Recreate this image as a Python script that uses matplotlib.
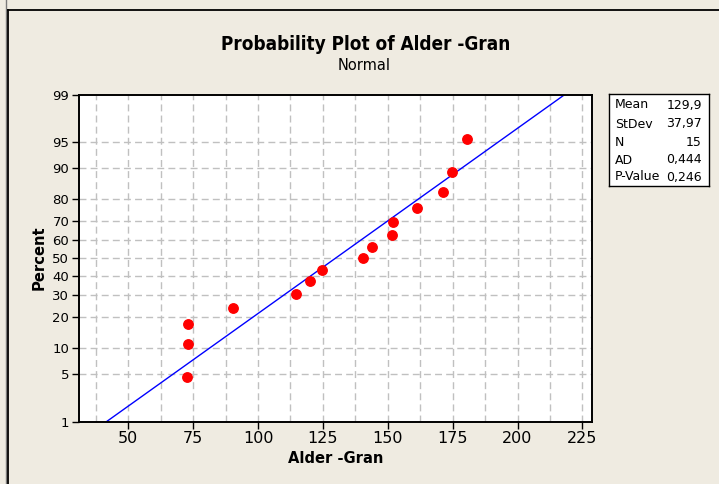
import matplotlib
matplotlib.use("Agg")
import matplotlib.pyplot as plt
from matplotlib.lines import Line2D
from matplotlib import font_manager
from statistics import NormalDist
import numpy as np

# data (Alder - Gran, n = 15)
alder = [72.7, 73.0, 73.0, 90.4, 114.8, 119.9, 124.6, 140.4, 143.8,
         151.6, 152.1, 161.1, 171.2, 174.6, 180.4]
percent = [4.5, 11.0, 17.5, 24.0, 30.5, 37.0, 43.5, 50.0, 56.5,
           63.0, 69.5, 76.0, 82.5, 89.0, 95.5]

# fitted normal from the stats box
mean = 129.9
stdev = 37.97
stats_labels = ["Mean", "StDev", "N", "AD", "P-Value"]
stats_values = ["129,9", "37,97", "15", "0,444", "0,246"]

y_ticks = [1, 5, 10, 20, 30, 40, 50, 60, 70, 80, 90, 95, 99]
x_ticks = [50, 75, 100, 125, 150, 175, 200, 225]

nd = NormalDist()
def z(p):
    return nd.inv_cdf(p / 100.0)

# narrower bold font if the condensed DejaVu face is there (closer to Tahoma)
cond = font_manager.FontProperties(family="DejaVu Sans", stretch="condensed",
                                   weight="bold")
has_cond = "Condensed" in font_manager.findfont(cond, fallback_to_default=True)
stretch = "condensed" if has_cond else "normal"
k = 1.0 if has_cond else 0.88

bg = "#EFEBE1"
W, H = 719, 484
fig = plt.figure(figsize=(W / 100, H / 100), dpi=100, facecolor=bg)

def fx(px):
    return px / W
def fy(py):
    return 1 - py / H

# outer window borders
fig.add_artist(Line2D([fx(5.8), fx(5.8)], [0, 1], color="#7a7a7a", lw=1.0))
fig.add_artist(Line2D([fx(7.6), fx(7.6)], [0, fy(9.5)], color="black", lw=1.3))
fig.add_artist(Line2D([fx(7.6), 1], [fy(9.5), fy(9.5)], color="black", lw=1.3))

ax = fig.add_axes([fx(79), fy(421.7), fx(592) - fx(79), fy(94.5) - fy(421.7)])
ax.set_facecolor("white")

zlim = z(99)
ax.set_ylim(-zlim, zlim)
ax.set_xlim(31, 228.7)

# grid: dashed, every 12.5 on x, at every percent tick on y
for gx in np.arange(37.5, 228, 12.5):
    ax.axvline(gx, color="#c0c0c0", lw=1.0, ls=(0, (5, 3)), zorder=0)
for p in y_ticks[1:-1]:
    ax.axhline(z(p), color="#c0c0c0", lw=1.0, ls=(0, (5, 3)), zorder=0)

# fitted line
line_z = np.array([-zlim, zlim])
ax.plot(mean + stdev * line_z, line_z, color="#0000ff", lw=1.0, zorder=2)

# points
ax.plot(alder, [z(p) for p in percent], "o", color="#ff0000", ms=6.8,
        mec="#ff0000", zorder=3, clip_on=False)

ax.set_yticks([z(p) for p in y_ticks])
ax.set_yticklabels([str(p) for p in y_ticks], fontsize=9.5)
ax.set_xticks(x_ticks)
ax.set_xticklabels([str(v) for v in x_ticks], fontsize=11.5)
ax.tick_params(direction="out", length=5, width=1.0, pad=2)
for s in ax.spines.values():
    s.set_linewidth(1.4)

ax.set_xlabel("Alder -Gran", fontsize=11.8 * k, fontweight="bold",
              fontstretch=stretch, labelpad=3)
ax.set_ylabel("Percent", fontsize=11.8 * k, fontweight="bold",
              fontstretch=stretch, labelpad=4)

fig.text(fx(366), fy(44), "Probability Plot of Alder -Gran", fontsize=13.6 * k,
         fontweight="bold", fontstretch=stretch, ha="center", va="center")
fig.text(fx(364), fy(65), "Normal", fontsize=10.5, ha="center", va="center")

# stats box
box = fig.add_axes([fx(609), fy(186), fx(709) - fx(609), fy(94.3) - fy(186)])
box.set_facecolor("white")
box.set_xticks([])
box.set_yticks([])
for s in box.spines.values():
    s.set_linewidth(1.0)
row_y = [105, 124, 142, 160, 177]
for lab, val, ry in zip(stats_labels, stats_values, row_y):
    fig.text(fx(615), fy(ry), lab, fontsize=9, ha="left", va="center")
    fig.text(fx(702), fy(ry), val, fontsize=9, ha="right", va="center")

fig.savefig("out.png", dpi=100, facecolor=bg)
